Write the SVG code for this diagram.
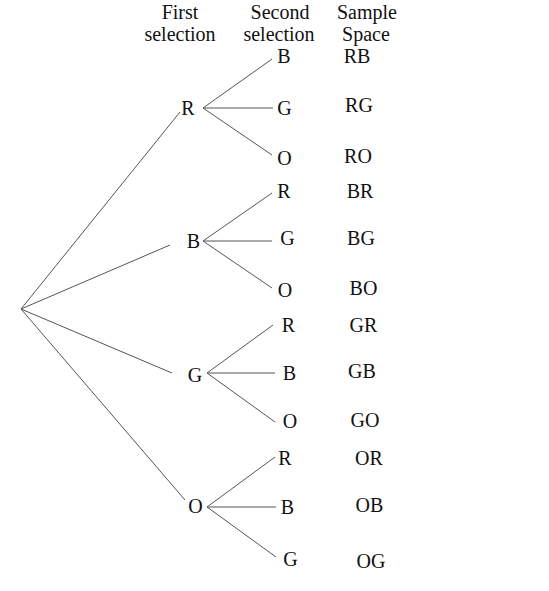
<svg xmlns="http://www.w3.org/2000/svg" width="549" height="591" viewBox="0 0 549 591">
<style>
text{font-family:"Liberation Serif","Times New Roman",serif;font-size:20px;fill:#111;text-anchor:middle}
.c line{stroke:#555;stroke-width:1;fill:none}
</style>
<rect width="549" height="591" fill="#fff"/>
<g id="headers">
<text x="180" y="19">First</text><text x="180" y="41">selection</text>
<text x="280" y="19">Second</text><text x="279" y="41">selection</text>
<text x="367" y="19">Sample</text><text x="366" y="41">Space</text>
</g>
<g class="c" id="connectors">
<line x1="21" y1="309" x2="180" y2="112"/>
<line x1="21" y1="309" x2="170" y2="245"/>
<line x1="21" y1="309" x2="172" y2="373"/>
<line x1="21" y1="309" x2="185" y2="500"/>
<line x1="203" y1="108" x2="272" y2="59"/>
<line x1="203" y1="108" x2="273" y2="108"/>
<line x1="203" y1="108" x2="272" y2="155"/>
<line x1="203" y1="241" x2="272" y2="193"/>
<line x1="203" y1="241" x2="272" y2="241"/>
<line x1="203" y1="241" x2="272" y2="288"/>
<line x1="207" y1="373" x2="273" y2="325"/>
<line x1="207" y1="373" x2="275" y2="373"/>
<line x1="207" y1="373" x2="275" y2="422"/>
<line x1="207" y1="507" x2="275" y2="457"/>
<line x1="207" y1="507" x2="276" y2="507"/>
<line x1="207" y1="507" x2="276" y2="557"/>
</g>
<g id="n-R"><text x="188" y="115">R</text></g>
<g id="n-B"><text x="193.5" y="248">B</text></g>
<g id="n-G"><text x="195" y="382">G</text></g>
<g id="n-O"><text x="195.5" y="513">O</text></g>
<g id="n-RB"><text x="284" y="63">B</text><text x="357" y="63">RB</text></g>
<g id="n-RG"><text x="284.5" y="115">G</text><text x="359" y="112">RG</text></g>
<g id="n-RO"><text x="284.5" y="165">O</text><text x="358" y="163">RO</text></g>
<g id="n-BR"><text x="284" y="198">R</text><text x="360" y="198">BR</text></g>
<g id="n-BG"><text x="287.5" y="245">G</text><text x="361" y="245">BG</text></g>
<g id="n-BO"><text x="285" y="297">O</text><text x="363.5" y="295">BO</text></g>
<g id="n-GR"><text x="288.5" y="332">R</text><text x="363.5" y="332">GR</text></g>
<g id="n-GB"><text x="289.5" y="380">B</text><text x="362" y="378">GB</text></g>
<g id="n-GO"><text x="290" y="428">O</text><text x="365" y="427">GO</text></g>
<g id="n-OR"><text x="285" y="465">R</text><text x="369" y="465">OR</text></g>
<g id="n-OB"><text x="287.5" y="514">B</text><text x="369.5" y="512">OB</text></g>
<g id="n-OG"><text x="290.5" y="566">G</text><text x="371" y="568">OG</text></g>
</svg>
